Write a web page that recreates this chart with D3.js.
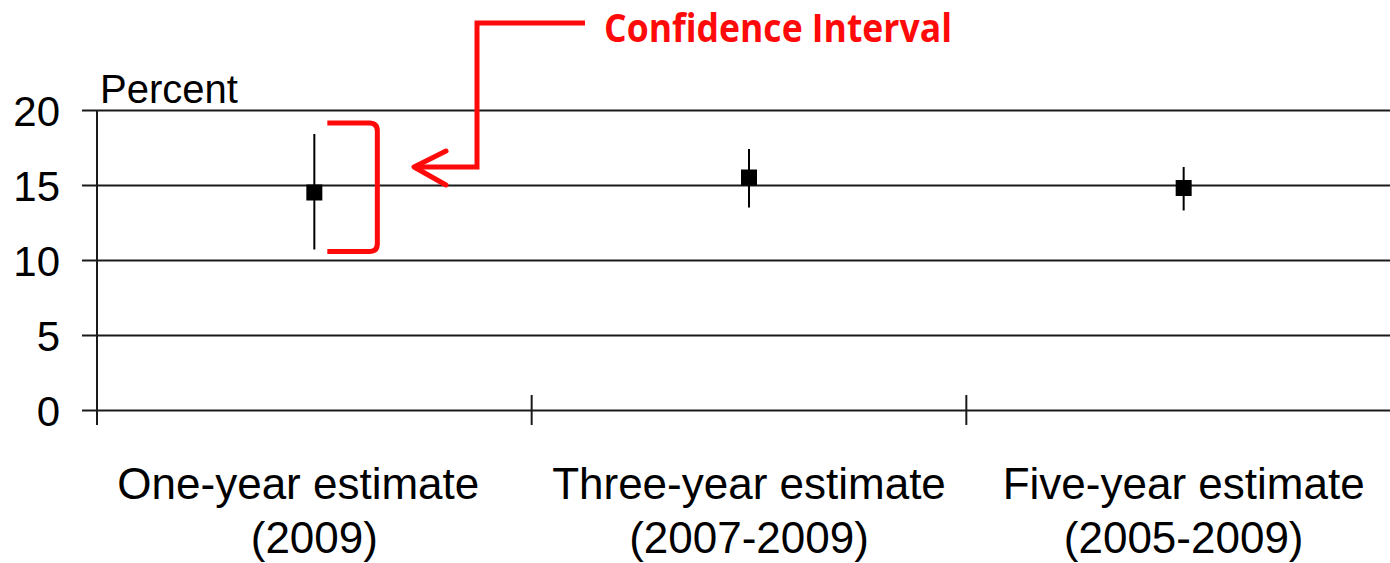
<!DOCTYPE html>
<html>
<head>
<meta charset="utf-8">
<script src="https://cdn.jsdelivr.net/npm/d3@7"></script>
<style>
  body { margin: 0; background: #fff; }
  svg text { font-family: "Liberation Sans", Arial, sans-serif; }
</style>
</head>
<body>
<div id="chart"></div>
<script>
var labelsLine1 = ["One-year estimate", "Three-year estimate", "Five-year estimate"];
var labelsLine2 = ["(2009)", "(2007-2009)", "(2005-2009)"];
var estimates = [14.5, 15.5, 14.8];
var lowerBound = [10.7, 13.5, 13.3];
var upperBound = [18.4, 17.4, 16.2];
var yTicks = [0, 5, 10, 15, 20];

var width = 1390,
    height = 563;

var svg = d3.select("#chart").append("svg")
    .attr("width", width)
    .attr("height", height);

var x = d3.scaleBand()
    .domain(labelsLine1)
    .range([97, 1401])
    .padding(0);

var y = d3.scaleLinear()
    .domain([0, 20])
    .range([410, 110]);

// gridlines + tick labels
var yAxis = svg.append("g")
    .attr("transform", "translate(97,0)")
    .call(d3.axisLeft(y).tickValues(yTicks).tickSize(0).tickPadding(37));

yAxis.select(".domain").remove();
yAxis.selectAll(".tick line")
    .attr("x1", -15)
    .attr("x2", width - 97)
    .attr("stroke", "#1a1a1a")
    .attr("stroke-width", 2);
yAxis.selectAll(".tick text")
    .attr("font-size", "42px")
    .attr("fill", "#000")
    .attr("dy", "0.36em")
    .style("font-family", "'Liberation Sans', Arial, sans-serif");

// y axis line
svg.append("line")
    .attr("x1", 97).attr("x2", 97)
    .attr("y1", y(20)).attr("y2", 425)
    .attr("stroke", "#1a1a1a")
    .attr("stroke-width", 2);

// category separators
var bounds = x.domain().slice(1).map(function(d) { return x(d); });
svg.selectAll(".sep")
    .data(bounds)
    .enter().append("line")
    .attr("class", "sep")
    .attr("x1", function(d) { return d; })
    .attr("x2", function(d) { return d; })
    .attr("y1", y(0) - 15)
    .attr("y2", y(0) + 15)
    .attr("stroke", "#1a1a1a")
    .attr("stroke-width", 2);

svg.append("text")
    .attr("x", 100)
    .attr("y", 103)
    .attr("font-size", "40px")
    .text("Percent");

// category labels
var catLabels = svg.selectAll(".cat")
    .data(labelsLine1)
    .enter().append("text")
    .attr("class", "cat")
    .attr("text-anchor", "middle")
    .attr("font-size", "44px")
    .attr("x", function(d) { return x(d) + x.bandwidth() / 2; })
    .attr("y", 499);

// first label's top line sits a bit left of centre in the original
catLabels.append("tspan")
    .attr("dx", function(d, i) { return i === 0 ? -16 : 0; })
    .text(function(d) { return d; });
catLabels.append("tspan")
    .attr("x", function(d) { return x(d) + x.bandwidth() / 2; })
    .attr("dy", 54)
    .text(function(d, i) { return labelsLine2[i]; });

// error bars
svg.selectAll(".err")
    .data(estimates)
    .enter().append("line")
    .attr("class", "err")
    .attr("x1", function(d, i) { return x(labelsLine1[i]) + x.bandwidth() / 2; })
    .attr("x2", function(d, i) { return x(labelsLine1[i]) + x.bandwidth() / 2; })
    .attr("y1", function(d, i) { return y(upperBound[i]); })
    .attr("y2", function(d, i) { return y(lowerBound[i]); })
    .attr("stroke", "#000")
    .attr("stroke-width", 2);

var sq = 16;
svg.selectAll(".pt")
    .data(estimates)
    .enter().append("rect")
    .attr("class", "pt")
    .attr("x", function(d, i) { return x(labelsLine1[i]) + x.bandwidth() / 2 - sq / 2; })
    .attr("y", function(d) { return y(d) - sq / 2; })
    .attr("width", sq)
    .attr("height", sq)
    .attr("fill", "#000");

// red annotation
var red = "#ff0a0a";
var cx0 = x(labelsLine1[0]) + x.bandwidth() / 2;
var bTop = y(upperBound[0]) - 11,
    bBot = y(lowerBound[0]) + 2,
    bL = cx0 + 13,
    bR = cx0 + 63,
    r = 8;

svg.append("path")
    .attr("d", "M" + bL + "," + bTop + " H" + (bR - r) + " Q" + bR + "," + bTop + " " + bR + "," + (bTop + r) +
        " V" + (bBot - r) + " Q" + bR + "," + bBot + " " + (bR - r) + "," + bBot + " H" + bL)
    .attr("fill", "none")
    .attr("stroke", red)
    .attr("stroke-width", 5);

var arrowY = y(16.2);
svg.append("path")
    .attr("d", "M585,23 H477 V" + arrowY + " H414")
    .attr("fill", "none")
    .attr("stroke", red)
    .attr("stroke-width", 5);

svg.append("path")
    .attr("d", "M446," + (arrowY - 16) + " L414," + arrowY + " L446," + (arrowY + 18))
    .attr("fill", "none")
    .attr("stroke", red)
    .attr("stroke-width", 5)
    .attr("stroke-linecap", "round")
    .attr("stroke-linejoin", "round");

svg.append("text")
    .attr("x", 604)
    .attr("y", 42)
    .attr("font-size", "40px")
    .attr("font-weight", "bold")
    .attr("fill", red)
    .attr("textLength", 348)
    .attr("lengthAdjust", "spacingAndGlyphs")
    .style("font-family", "'Open Sans', 'Noto Sans', sans-serif")
    .text("Confidence Interval");
</script>
</body>
</html>
